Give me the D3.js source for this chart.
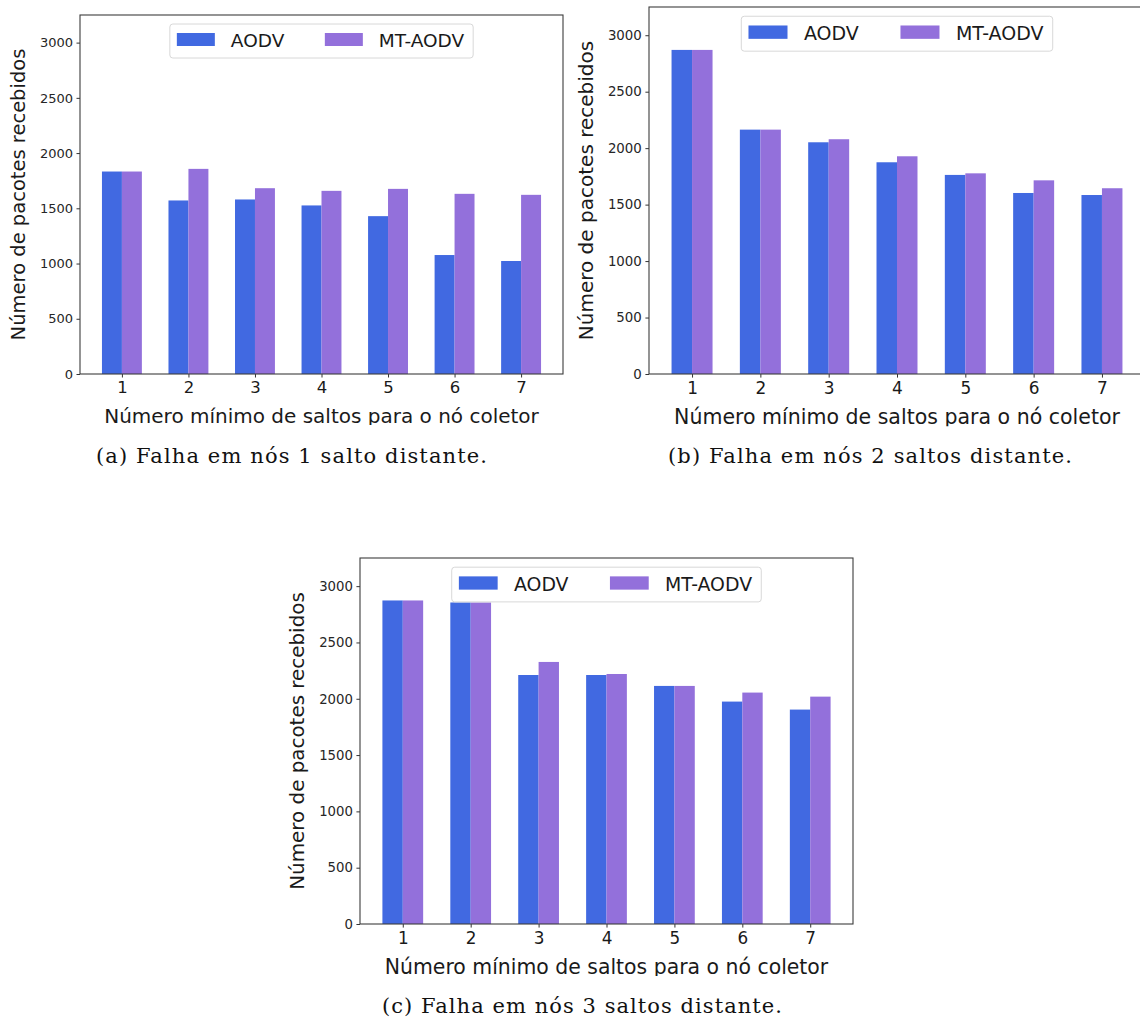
<!DOCTYPE html>
<html>
<head>
<meta charset="utf-8">
<script src="https://cdn.jsdelivr.net/npm/d3@7"></script>
<style>
  body { margin: 0; background: #fff; }
  svg { display: block; }
</style>
</head>
<body>
<svg id="fig" width="1140" height="1021"></svg>
<script>
var hops = [1, 2, 3, 4, 5, 6, 7];
var series = ['AODV', 'MT-AODV'];
var colors = ['#4169e1', '#9370db'];
var yTicks = [0, 500, 1000, 1500, 2000, 2500, 3000];

var aodvA = [1833, 1571, 1580, 1526, 1429, 1077, 1023];
var mtA   = [1833, 1857, 1682, 1658, 1676, 1631, 1622];
var aodvB = [2870, 2164, 2052, 1875, 1763, 1603, 1585];
var mtB   = [2870, 2164, 2079, 1928, 1777, 1715, 1645];
var aodvC = [2873, 2855, 2211, 2211, 2114, 1975, 1904];
var mtC   = [2873, 2855, 2327, 2220, 2114, 2055, 2019];

var captions = [
  '(a) Falha em nós 1 salto distante.',
  '(b) Falha em nós 2 saltos distante.',
  '(c) Falha em nós 3 saltos distante.'
];

var panels = [
  {left: 80,  top: 15,  right: 563,  bottom: 374, capX: 96,  capY: 463,  capW: 391, values: [aodvA, mtA], caption: captions[0]},
  {left: 649, top: 7,   right: 1145, bottom: 374, capX: 668, capY: 463,  capW: 404, values: [aodvB, mtB], caption: captions[1]},
  {left: 360, top: 558, right: 853,  bottom: 924, capX: 382, capY: 1013, capW: 400, values: [aodvC, mtC], caption: captions[2]}
];

var svg = d3.select('#fig');
var barW = 0.3;

panels.forEach(function(p, pi) {
    var s = (p.right - p.left) / 483;
    var x = d3.scaleLinear().domain([0.37, 7.63]).range([p.left, p.right]);
    var y = d3.scaleLinear().domain([0, 3250]).range([p.bottom, p.top]);

    // the source figures were cropped just under the x-axis title
    svg.append('clipPath').attr('id', 'clip' + pi)
      .append('rect').attr('x', p.left - 120).attr('y', p.top - 20)
        .attr('width', p.right - p.left + 200).attr('height', p.bottom + 51 * s - p.top + 20);

    var g = svg.append('g').attr('clip-path', 'url(#clip' + pi + ')');

    // bars
    p.values.forEach(function(vals, si) {
        g.selectAll('rect.s' + si)
          .data(hops)
          .enter().append('rect')
            .attr('class', 's' + si)
            .attr('x', function(d) { return x(d + (si === 0 ? -barW : 0)); })
            .attr('width', x(barW) - x(0))
            .attr('y', function(d, i) { return y(vals[i]); })
            .attr('height', function(d, i) { return y(0) - y(vals[i]); })
            .attr('fill', colors[si]);
    });

    // axes
    var ya = g.append('g')
        .attr('transform', 'translate(' + p.left + ',0)')
        .call(d3.axisLeft(y).tickValues(yTicks).tickFormat(d3.format('d')).tickSize(3.5 * s).tickPadding(3.5 * s));
    ya.select('.domain').remove();
    ya.selectAll('text').attr('font-size', 13 * s).attr('fill', '#262626');

    var xa = g.append('g')
        .attr('transform', 'translate(0,' + p.bottom + ')')
        .call(d3.axisBottom(x).tickValues(hops).tickFormat(d3.format('d')).tickSize(3.5 * s).tickPadding(4 * s));
    xa.select('.domain').remove();
    xa.selectAll('text').attr('font-size', 16.5 * s).attr('fill', '#1a1a1a');

    g.selectAll('.tick line').attr('stroke', '#333');
    g.selectAll('.tick text').attr('font-family', 'DejaVu Sans');

    // frame
    g.append('rect')
        .attr('x', p.left).attr('y', p.top)
        .attr('width', p.right - p.left).attr('height', p.bottom - p.top)
        .attr('fill', 'none').attr('stroke', '#3c3c3c').attr('stroke-width', 1.1);

    // axis titles
    g.append('text')
        .attr('x', (p.left + p.right) / 2)
        .attr('y', p.bottom + 49 * s)
        .attr('text-anchor', 'middle')
        .attr('font-family', 'DejaVu Sans').attr('font-size', 20 * s).attr('fill', '#1a1a1a')
        .text('Número mínimo de saltos para o nó coletor');

    g.append('text')
        .attr('transform', 'translate(' + (p.left - 55 * s) + ',' + ((p.top + p.bottom) / 2) + ') rotate(-90)')
        .attr('text-anchor', 'middle')
        .attr('font-family', 'DejaVu Sans').attr('font-size', 19.5 * s).attr('fill', '#1a1a1a')
        .text('Número de pacotes recebidos');

    // legend
    var cx = (p.left + p.right) / 2;
    var lg = g.append('g');
    var box = lg.append('rect')
        .attr('y', p.top + 9 * s).attr('height', 34 * s)
        .attr('rx', 3).attr('fill', 'white').attr('fill-opacity', 0.85)
        .attr('stroke', '#d8d8d8');
    var items = [];
    series.forEach(function(name, si) {
        var it = lg.append('g');
        it.append('rect').attr('width', 38 * s).attr('height', 13 * s).attr('y', p.top + 18 * s).attr('fill', colors[si]);
        it.append('text').attr('x', 54 * s).attr('y', p.top + 32 * s)
            .attr('font-family', 'DejaVu Sans').attr('font-size', 18.5 * s).attr('fill', '#1a1a1a')
            .text(name);
        items.push(it);
    });
    var w2 = items[1].select('text').node().getComputedTextLength();
    var bw = 155 * s + 54 * s + w2 + 9 * s;
    var bx = cx - bw / 2;
    box.attr('x', bx).attr('width', bw);
    items[0].attr('transform', 'translate(' + (bx + 7 * s) + ',0)');
    items[1].attr('transform', 'translate(' + (bx + 155 * s) + ',0)');

    // caption
    svg.append('text')
        .attr('x', p.capX).attr('y', p.capY)
        .attr('textLength', p.capW).attr('lengthAdjust', 'spacing')
        .attr('font-family', 'DejaVu Serif').attr('font-size', 21).attr('fill', '#111')
        .text(p.caption);
});
</script>
</body>
</html>
